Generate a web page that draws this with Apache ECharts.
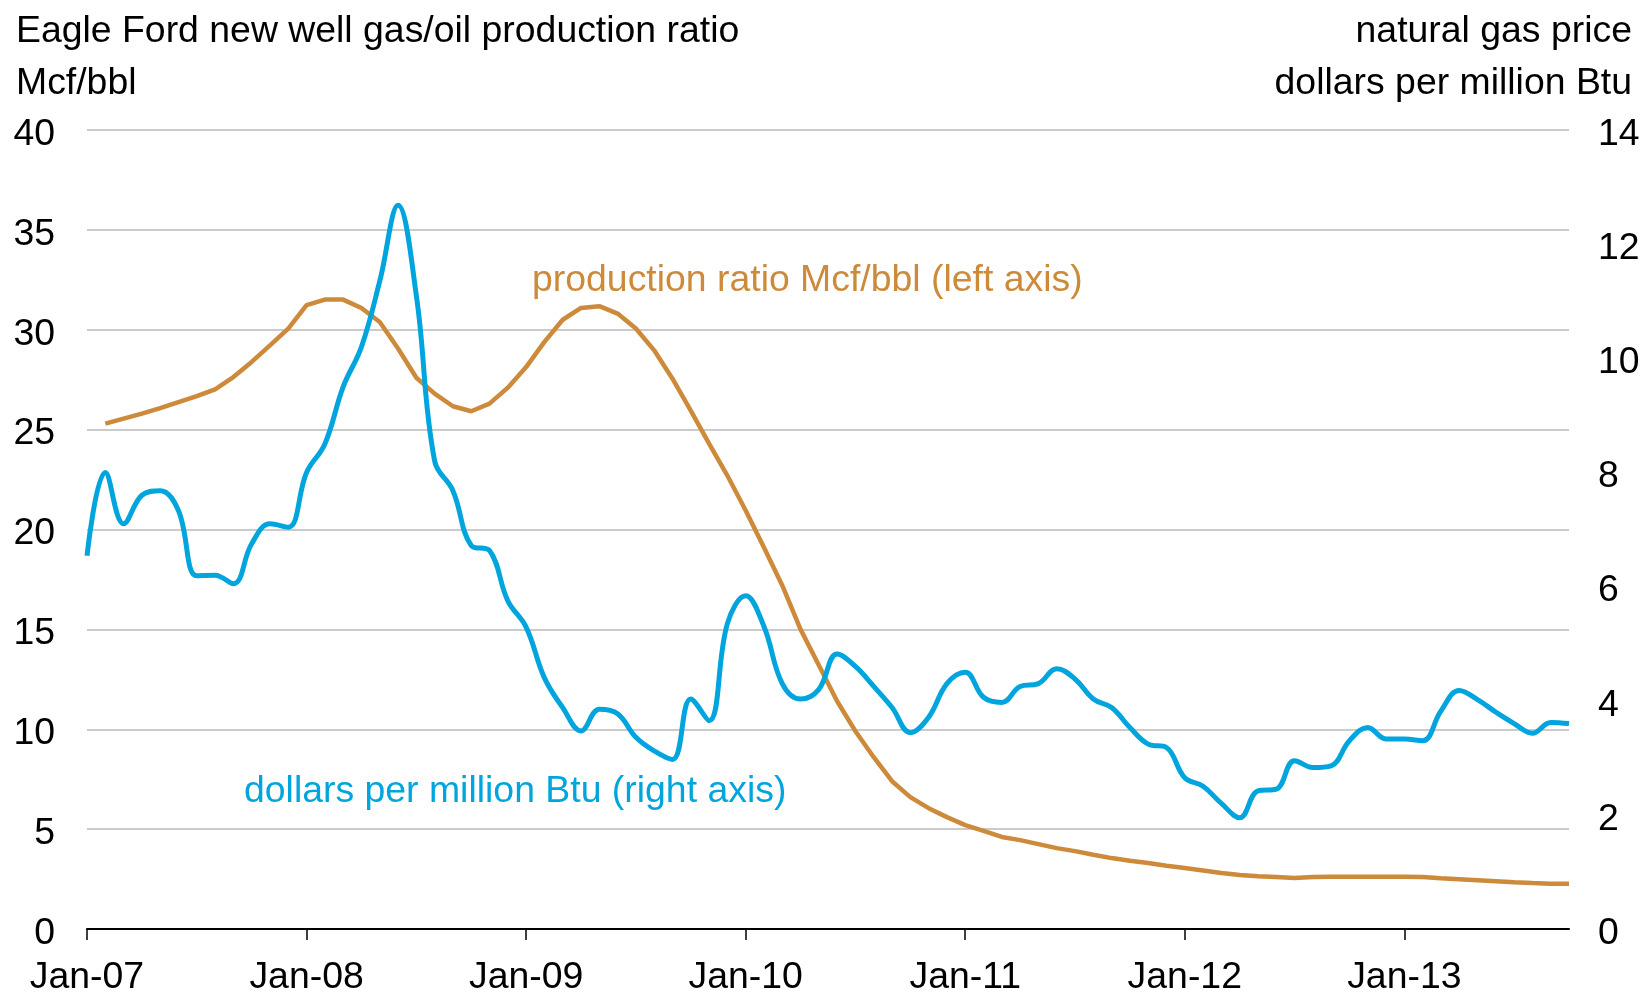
<!DOCTYPE html>
<html><head><meta charset="utf-8">
<script src="https://cdn.jsdelivr.net/npm/echarts@6/dist/echarts.min.js"></script>
<style>html,body{margin:0;padding:0;background:#fff}#c{width:1648px;height:992px}</style>
</head><body><div id="c"></div>
<script>
const months = [
 'Jan-07','Feb-07','Mar-07','Apr-07','May-07','Jun-07','Jul-07','Aug-07','Sep-07','Oct-07','Nov-07','Dec-07',
 'Jan-08','Feb-08','Mar-08','Apr-08','May-08','Jun-08','Jul-08','Aug-08','Sep-08','Oct-08','Nov-08','Dec-08',
 'Jan-09','Feb-09','Mar-09','Apr-09','May-09','Jun-09','Jul-09','Aug-09','Sep-09','Oct-09','Nov-09','Dec-09',
 'Jan-10','Feb-10','Mar-10','Apr-10','May-10','Jun-10','Jul-10','Aug-10','Sep-10','Oct-10','Nov-10','Dec-10',
 'Jan-11','Feb-11','Mar-11','Apr-11','May-11','Jun-11','Jul-11','Aug-11','Sep-11','Oct-11','Nov-11','Dec-11',
 'Jan-12','Feb-12','Mar-12','Apr-12','May-12','Jun-12','Jul-12','Aug-12','Sep-12','Oct-12','Nov-12','Dec-12',
 'Jan-13','Feb-13','Mar-13','Apr-13','May-13','Jun-13','Jul-13','Aug-13','Sep-13','Oct-13'
];
// Mcf/bbl (left axis)
const productionRatio = [
 null, 25.3, 25.55, 25.8, 26.08, 26.38, 26.68, 27.02, 27.63, 28.39, 29.22,
 30.06, 31.23, 31.51, 31.51, 31.09, 30.39, 29.06, 27.6, 26.8, 26.17,
 25.92, 26.3, 27.1, 28.13, 29.39, 30.5, 31.09, 31.18, 30.81, 30.06,
 28.97, 27.55, 25.95, 24.3, 22.7, 20.95, 19.1, 17.2, 15.0, 13.2,
 11.4, 9.9, 8.6, 7.4, 6.6, 6.05, 5.6, 5.2, 4.91, 4.61,
 4.45, 4.25, 4.05, 3.9, 3.72, 3.55, 3.42, 3.3, 3.17, 3.05,
 2.93, 2.8, 2.7, 2.64, 2.6, 2.55, 2.6, 2.61, 2.61, 2.61,
 2.61, 2.61, 2.6, 2.54, 2.49, 2.44, 2.39, 2.34, 2.3, 2.27, 2.27
];
// dollars per million Btu (right axis)
const gasPrice = [
 6.54, 8.0, 7.1, 7.6, 7.68, 7.33, 6.19, 6.2, 6.05, 6.75,
 7.1, 7.04, 8.0, 8.5, 9.5, 10.2, 11.35, 12.68, 11.1, 8.2,
 7.68, 6.72, 6.63, 5.75, 5.29, 4.4, 3.88, 3.47, 3.85, 3.77,
 3.36, 3.12, 2.97, 4.03, 3.65, 5.35, 5.84, 5.3, 4.3, 4.03,
 4.2, 4.82, 4.6, 4.25, 3.88, 3.44, 3.71, 4.3, 4.5, 4.06,
 3.97, 4.25, 4.3, 4.56, 4.38, 4.03, 3.88, 3.53, 3.24, 3.18,
 2.65, 2.5, 2.2, 1.95, 2.42, 2.45, 2.95, 2.83, 2.86, 3.3,
 3.53, 3.33, 3.33, 3.3, 3.82, 4.18, 4.02, 3.8, 3.6, 3.43, 3.62, 3.6
];
const leftAxisRange = {min: 0, max: 40, interval: 5};
const rightAxisRange = {min: 0, max: 14, interval: 2};

const FONT = '"Liberation Sans", Arial, sans-serif';
const FS = 37.4;
const ORANGE = '#cc8a3a';
const BLUE = '#00a5dd';
const chart = echarts.init(document.getElementById('c'), null, {renderer: 'canvas'});
const isJan = (i) => i % 12 === 0;
const txt = (t, color) => ({text: t, font: FS + 'px ' + FONT, fill: color});
chart.setOption({
  backgroundColor: '#fff',
  animation: false,
  textStyle: {fontFamily: FONT},
  grid: {left: 87, right: 79, top: 130, bottom: 63, containLabel: false, outerBoundsMode: 'none'},
  graphic: [
    {type: 'text', left: 16, top: 13, style: txt('Eagle Ford new well gas/oil production ratio', '#000')},
    {type: 'text', left: 16, top: 65, style: txt('Mcf/bbl', '#000')},
    {type: 'text', right: 16, top: 13, style: txt('natural gas price', '#000')},
    {type: 'text', right: 16, top: 65, style: txt('dollars per million Btu', '#000')},
    {type: 'text', left: 532, top: 262, style: txt('production ratio Mcf/bbl (left axis)', ORANGE)},
    {type: 'text', left: 244, top: 773, style: txt('dollars per million Btu (right axis)', BLUE)}
  ],
  xAxis: {
    type: 'category', data: months, boundaryGap: false,
    axisLine: {lineStyle: {color: '#000', width: 2}},
    axisTick: {show: true, interval: (i) => isJan(i), length: 11, lineStyle: {color: '#000', width: 1.5}},
    axisLabel: {interval: (i) => isJan(i), color: '#000', fontSize: FS, fontFamily: FONT, margin: 30},
    splitLine: {show: false}
  },
  yAxis: [
    {type: 'value', min: leftAxisRange.min, max: leftAxisRange.max, interval: leftAxisRange.interval,
     axisLine: {show: false}, axisTick: {show: false},
     axisLabel: {color: '#000', fontSize: FS, fontFamily: FONT, margin: 32, verticalAlign: 'top', lineHeight: 9},
     splitLine: {lineStyle: {color: '#cbcbcb', width: 2}}},
    {type: 'value', min: rightAxisRange.min, max: rightAxisRange.max, interval: rightAxisRange.interval,
     position: 'right',
     axisLine: {show: false}, axisTick: {show: false},
     axisLabel: {color: '#000', fontSize: FS, fontFamily: FONT, margin: 29, verticalAlign: 'top', lineHeight: 9},
     splitLine: {show: false}}
  ],
  series: [
    {name: 'production ratio', type: 'line', yAxisIndex: 0, data: productionRatio, showSymbol: false, smooth: false,
     lineStyle: {color: ORANGE, width: 4.5}, itemStyle: {color: ORANGE}, z: 2},
    {name: 'gas price', type: 'line', yAxisIndex: 1, data: gasPrice, showSymbol: false, smooth: 0.4,
     lineStyle: {color: BLUE, width: 5}, itemStyle: {color: BLUE}, z: 3}
  ]
});
</script>
</body></html>
